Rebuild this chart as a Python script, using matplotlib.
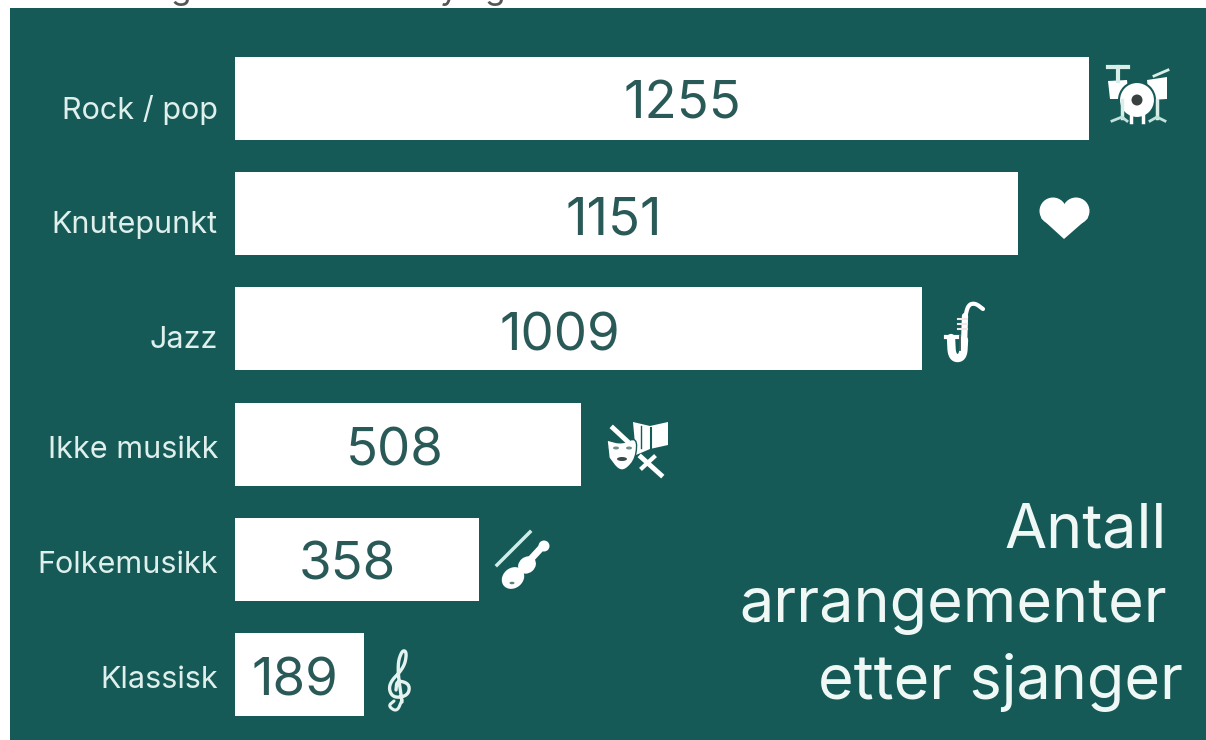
import numpy as np
import matplotlib
matplotlib.use('Agg')
import matplotlib.pyplot as plt
from matplotlib.patches import Rectangle, Circle, Ellipse, Polygon

# data
sjangre = ['Rock / pop', 'Knutepunkt', 'Jazz', 'Ikke musikk', 'Folkemusikk', 'Klassisk']
antall = [1255, 1151, 1009, 508, 358, 189]
tittel = ['Antall', 'arrangementer', 'etter sjanger']

W, H = 1206, 740
bg = '#165a58'
tekst = '#2a5a58'
lys = '#dff0ec'
fg = 'white'

# hand placed offsets (pixels) of the texts in each row
tall_dx = [20, -13, -18, -13, -9, -4]
tall_dy = [7, 7, 8, 8, 7, 8]
navn_dy = [12, 11, 11, 6, 6, 5]

plt.rcParams['font.family'] = ['Inter', 'Roboto', 'DejaVu Sans']

fig = plt.figure(figsize=(W/100, H/100), dpi=100, facecolor='white')

# panel and icons are drawn in pixel coordinates on a full size axes
pan = fig.add_axes([0, 0, 1, 1])
pan.set_xlim(0, W)
pan.set_ylim(H, 0)
pan.axis('off')
pan.add_patch(Rectangle((10, 8), W-10, H-8, fc=bg, ec='none'))

# leftovers of the cropped text above the panel
for xt, c in [(180, 'g'), (448, 'y'), (494, 'g')]:
    pan.text(xt, -1, c, ha='center', va='baseline', fontsize=24, color='#555555')

# bars
ax = fig.add_axes([235/W, 0, 854/W, 1])
ax.patch.set_alpha(0)
y = np.arange(len(antall))
ax.barh(y, antall, height=0.72, color='white')
ax.set_xlim(0, 1255)
ax.set_ylim((H-98.5)/115.2, -98.5/115.2)
ax.axis('off')

for i in range(len(antall)):
    ax.annotate(str(antall[i]), (antall[i]/2, i), xytext=(tall_dx[i], -tall_dy[i]),
                textcoords='offset pixels', ha='center', va='center',
                fontsize=38, color=tekst)
    ax.annotate(sjangre[i], (0, i), xytext=(-17, -navn_dy[i]),
                textcoords='offset pixels', ha='right', va='center',
                fontsize=22, color=lys)

# title, bottom right
pan.text(1167, 531, tittel[0], ha='right', va='center', fontsize=44, color='#f0f8f6')
pan.text(1167, 606, tittel[1], ha='right', va='center', fontsize=44, color='#f0f8f6')
pan.text(1183, 682, tittel[2], ha='right', va='center', fontsize=44, color='#f0f8f6')


def glatt(p, n=3):
    # rounds off a rough line
    p = np.array(p, float)
    for k in range(n):
        q = 0.75*p[:-1] + 0.25*p[1:]
        r = 0.25*p[:-1] + 0.75*p[1:]
        p = np.vstack([p[0], np.c_[q, r].reshape(-1, 2), p[-1]])
    return p


def linje(p, lw, farge=fg):
    p = glatt(p)
    pan.plot(p[:, 0], p[:, 1], color=farge, lw=lw, solid_capstyle='round')


def drums():
    pan.add_patch(Polygon([(1108, 81), (1127, 80), (1129, 99), (1110, 99)], fc=fg))
    pan.add_patch(Polygon([(1147, 80), (1167, 77), (1167, 99), (1149, 100)], fc=fg))
    pan.plot([1108, 1128], [67, 67], color='#d8efe9', lw=3)
    pan.plot([1118, 1118], [67, 81], color='#d8efe9', lw=3)
    pan.plot([1154, 1168], [76, 70], color='#d8efe9', lw=2)
    pan.plot([1122, 1122], [100, 118], color='#d8efe9', lw=2.5)
    pan.plot([1112, 1122, 1127], [121, 117, 121], color='#c4e2dc', lw=2)
    pan.plot([1157, 1157], [100, 118], color='#d8efe9', lw=2.5)
    pan.plot([1150, 1157, 1165], [121, 117, 121], color='#c4e2dc', lw=2)
    pan.plot([1131, 1131], [112, 122], color=fg, lw=2.5)
    pan.plot([1143, 1143], [112, 122], color=fg, lw=2.5)
    pan.add_patch(Circle((1137, 100), 18, fc=fg, ec=bg, lw=1.5))
    pan.add_patch(Circle((1137, 100), 5.5, fc='#3a3f3f'))


def heart():
    pan.add_patch(Circle((1053, 211), 13.5, fc=fg))
    pan.add_patch(Circle((1076, 211), 13.5, fc=fg))
    pan.add_patch(Polygon([(1041, 218), (1053, 205), (1065, 212), (1077, 205),
                           (1088, 218), (1064, 239)], fc=fg))


def sax():
    linje([(983, 309), (975, 303), (968, 305), (965, 318)], 3)
    linje([(965, 316), (964, 345)], 4.5)
    linje([(964, 340), (963, 358), (952, 358), (951, 338)], 6)
    pan.plot([946, 959], [337, 337], color=fg, lw=3)
    pan.plot([960, 960], [336, 350], color='#3d4f4f', lw=1.3)
    for yb in [319, 324, 329]:
        pan.plot([958, 967], [yb, yb], color='#f4e6e6', lw=1.5)


def masks():
    pan.add_patch(Polygon([(633, 422), (650, 426), (668, 422), (668, 445), (650, 449), (636, 455)], fc=fg))
    pan.plot([651, 651], [428, 448], color=bg, lw=1.5)
    pan.plot([641, 641], [426, 448], color=bg, lw=1)
    p = glatt([(607, 440), (622, 444), (637, 437), (636, 458), (626, 470), (618, 470), (609, 458)], 2)
    pan.add_patch(Polygon(p, fc=fg, ec=bg, lw=1))
    pan.plot([613, 627], [428, 441], color=fg, lw=3.5)
    pan.add_patch(Ellipse((616, 448), 6, 3, fc='#6d8f8c'))
    pan.add_patch(Ellipse((629, 448), 6, 3, fc='#6d8f8c'))
    pan.add_patch(Ellipse((622, 459), 10, 4, fc='#3a4a4a'))
    pan.plot([641, 661], [457, 475], color=fg, lw=3.5)
    pan.plot([654, 642], [457, 468], color=fg, lw=3)


def fiolin():
    pan.plot([497, 530], [565, 532], color='#d0ece6', lw=2.5)
    pan.add_patch(Ellipse((513, 578), 24, 20, angle=-40, fc=fg))
    pan.add_patch(Ellipse((527, 565), 19, 16, angle=-40, fc=fg))
    pan.plot([530, 542], [560, 547], color=fg, lw=5)
    pan.add_patch(Circle((544, 546), 5.5, fc=fg))
    pan.add_patch(Ellipse((512, 583), 5, 2.5, fc='#5d7f7c'))


def noekkel():
    # no installed font has the treble clef
    linje([(402, 700), (397, 712), (388, 706), (394, 701)], 2.2, '#e4f3ef')
    linje([(402, 702), (397, 666), (402, 650), (407, 652), (404, 668), (388, 684),
           (392, 698), (408, 696), (410, 684), (397, 680), (396, 690)], 2.4, '#e4f3ef')


drums()
heart()
sax()
masks()
fiolin()
noekkel()

fig.savefig('out.png', dpi=100, facecolor='white')
